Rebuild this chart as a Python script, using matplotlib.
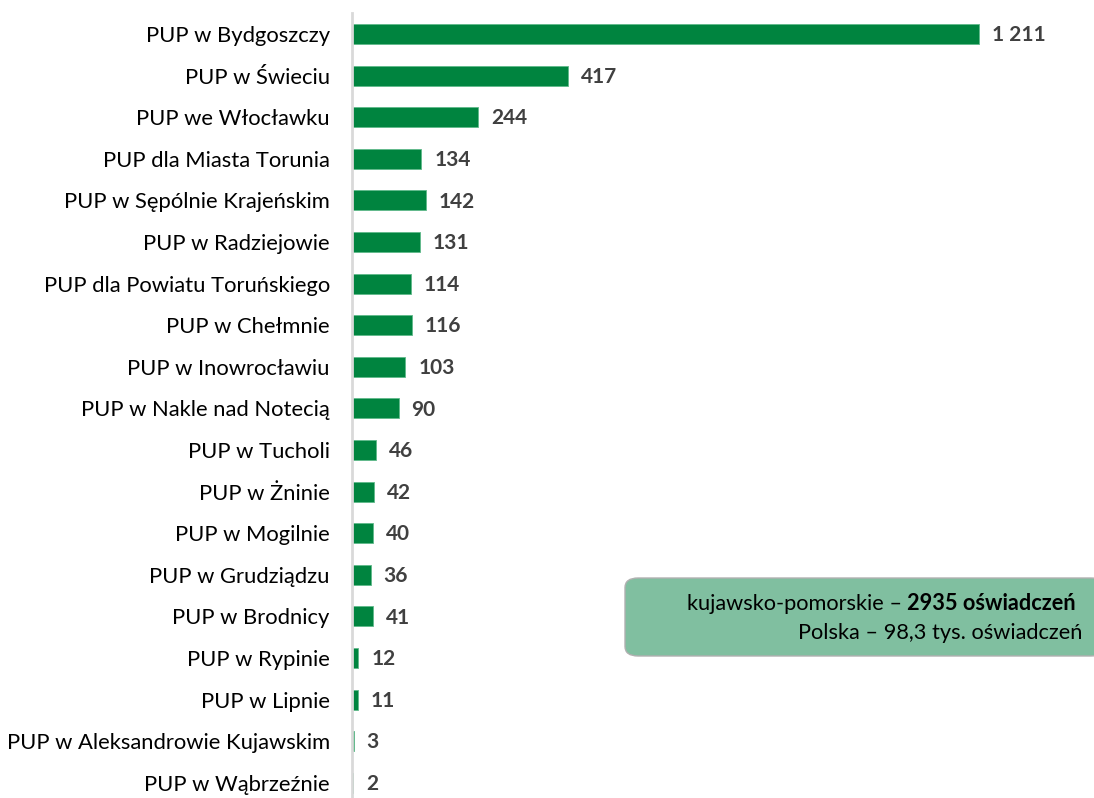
import matplotlib
matplotlib.use("Agg")
import matplotlib.pyplot as plt
from matplotlib.patches import FancyBboxPatch

categories = [
    "PUP w Bydgoszczy", "PUP w Świeciu", "PUP we Włocławku", "PUP dla Miasta Torunia",
    "PUP w Sępólnie Krajeńskim", "PUP w Radziejowie", "PUP dla Powiatu Toruńskiego",
    "PUP w Chełmnie", "PUP w Inowrocławiu", "PUP w Nakle nad Notecią", "PUP w Tucholi",
    "PUP w Żninie", "PUP w Mogilnie", "PUP w Grudziądzu", "PUP w Brodnicy",
    "PUP w Rypinie", "PUP w Lipnie", "PUP w Aleksandrowie Kujawskim", "PUP w Wąbrzeźnie",
]
values = [1211, 417, 244, 134, 142, 131, 114, 116, 103, 90, 46, 42, 40, 36, 41, 12, 11, 3, 2]
value_labels = ["1 211", "417", "244", "134", "142", "131", "114", "116", "103", "90",
                "46", "42", "40", "36", "41", "12", "11", "3", "2"]
box_line1_regular = "kujawsko-pomorskie – "
box_line1_bold = "2935 oświadczeń"
box_line2 = "Polska – 98,3 tys. oświadczeń"

plt.rcParams['font.family'] = ['Lato', 'DejaVu Sans']

W, H = 1094, 798
fig = plt.figure(figsize=(W / 100, H / 100), dpi=100)
ax = fig.add_axes([352 / W, 0, (W - 352) / W, (798 - 13) / H])

bar_color = "#00843F"
ypos = list(range(len(categories)))
ax.barh(ypos, values, height=0.48, color=bar_color, edgecolor="#5FB98A",
        linewidth=0.6)

ax.set_xlim(0, (W - 352) / 0.5178)
ax.set_ylim(18.365, -0.505)

for i, (v, lab) in enumerate(zip(values, value_labels)):
    ax.text(v + 13 / 0.5178, i + 0.03, lab, va="center", ha="left", fontsize=15,
            fontweight="bold", color="#404040")

ax.set_yticks(ypos)
ax.set_yticklabels(categories, fontsize=15.8, color="#000000")
ax.tick_params(axis="y", length=0, pad=16)
ax.set_xticks([])
for s in ["top", "right", "bottom"]:
    ax.spines[s].set_visible(False)
ax.spines["left"].set_color("#D9D9D9")
ax.spines["left"].set_linewidth(2)

# annotation box
bx0, by0, bx1, by1 = 625, 578, 1104, 656
box = FancyBboxPatch((bx0 / W, 1 - by1 / H), (bx1 - bx0) / W, (by1 - by0) / H,
                     boxstyle="round,pad=0,rounding_size=0.012",
                     transform=fig.transFigure, facecolor="#80BFA0",
                     edgecolor="#B0B0B0", linewidth=1, zorder=5)
fig.patches.append(box)

xr = 1082
fs_box = 15.7
t_bold = fig.text((xr - 6) / W, 1 - 604 / H, box_line1_bold, ha="right", va="center",
                  fontsize=fs_box, fontweight="bold", color="#000000", zorder=6)
fig.add_artist(plt.Annotation(box_line1_regular, xy=(0, 0), xycoords=t_bold,
                              xytext=(0, 0), textcoords="offset points",
                              ha="right", va="bottom", fontsize=fs_box,
                              color="#000000", zorder=6))
fig.text(xr / W, 1 - 633 / H, box_line2, ha="right", va="center",
         fontsize=fs_box, color="#000000", zorder=6)

fig.savefig("out.png", dpi=100)
